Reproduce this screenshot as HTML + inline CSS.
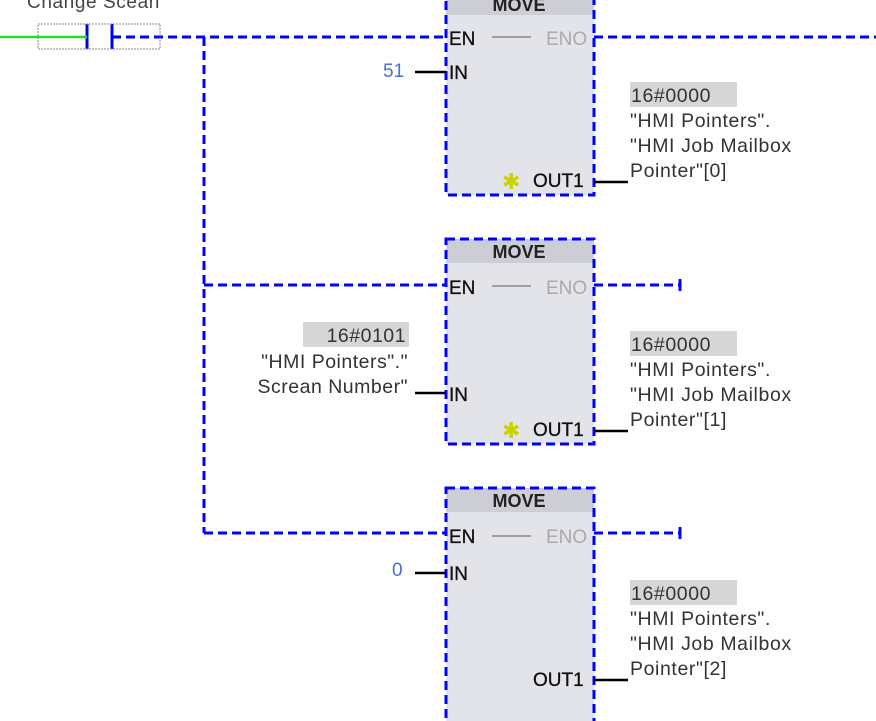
<!DOCTYPE html>
<html><head><meta charset="utf-8"><style>
html,body{margin:0;padding:0;background:#fff;width:876px;height:721px;overflow:hidden}
svg{display:block}
text{font-family:"Liberation Sans","DejaVu Sans",sans-serif}
</style></head><body>
<svg width="876" height="721" viewBox="0 0 876 721" xmlns="http://www.w3.org/2000/svg">
<g>
  <rect x="446" y="-10" width="148" height="205" fill="#e3e3ea"/>
  <rect x="446" y="-10" width="148" height="25" fill="#cdcdd6"/>
  <rect x="446" y="239" width="148" height="205" fill="#e3e3ea"/>
  <rect x="446" y="239" width="148" height="24" fill="#cdcdd6"/>
  <rect x="446" y="488" width="148" height="240" fill="#e3e3ea"/>
  <rect x="446" y="488" width="148" height="24" fill="#cdcdd6"/>
</g>
<g fill="none" stroke="#0000ff" stroke-width="3" stroke-dasharray="9,5">
  <rect x="446" y="-10" width="148" height="205"/>
  <rect x="446" y="239" width="148" height="205"/>
  <rect x="446" y="488" width="148" height="240"/>
  <path d="M112 37 H446"/>
  <path d="M594 37 H876"/>
  <path d="M204 37 V533"/>
  <path d="M204 285 H446"/>
  <path d="M204 533 H446"/>
  <path d="M594 285 H680"/>
  <path d="M594 533 H680"/>
</g>
<g stroke="#0000ff" stroke-width="3">
  <path d="M680 279 V291 M680 527 V539"/>
  <path d="M87 24 V49 M112 24 V49"/>
</g>
<rect x="38" y="24" width="122" height="25" fill="none" stroke="#888" stroke-width="1" stroke-dasharray="2,1"/>
<path d="M0 37 H87" stroke="#22dd22" stroke-width="2.5"/>
<text x="27" y="8" font-size="19" letter-spacing="0.6" fill="#444">Change Scean</text>
<g stroke="#888" stroke-width="1.5">
  <path d="M492 37 H531 M492 286 H531 M492 536 H531"/>
</g>
<g stroke="#000" stroke-width="2.5">
  <path d="M415 72 H446 M415 393 H446 M415 573 H446"/>
  <path d="M594 182 H628 M594 431 H628 M594 680 H628"/>
</g>
<g font-size="18" font-weight="bold" fill="#222" text-anchor="middle">
  <text x="519" y="11">MOVE</text>
  <text x="519" y="258">MOVE</text>
  <text x="519" y="507">MOVE</text>
</g>
<g font-size="19" fill="#111" stroke="#111" stroke-width="0.3">
  <text x="449" y="45">EN</text><text x="449" y="79">IN</text>
  <text x="449" y="294">EN</text><text x="449" y="401">IN</text>
  <text x="449" y="543">EN</text><text x="449" y="580">IN</text>
  <text x="533" y="187">OUT1</text><text x="533" y="436">OUT1</text><text x="533" y="686">OUT1</text>
</g>
<g font-size="19" fill="#aaa">
  <text x="546" y="45">ENO</text><text x="546" y="294">ENO</text><text x="546" y="543">ENO</text>
</g>
<g font-size="22" fill="#c8d400" font-weight="bold">
  <text x="502" y="189">✱</text><text x="502" y="438">✱</text>
</g>
<g font-size="19" fill="#4a6fd8">
  <text x="383" y="77">51</text>
  <text x="392" y="576">0</text>
</g>
<rect x="303" y="322" width="106" height="25" fill="#d6d6d6"/>
<g font-size="19.5" letter-spacing="0.5" fill="#333" text-anchor="end">
  <text x="406" y="342">16#0101</text>
  <text x="408" y="368">"HMI Pointers"."</text>
  <text x="408" y="393">Screan Number"</text>
</g>
<g fill="#d6d6d6">
  <rect x="630" y="82" width="107" height="25"/>
  <rect x="630" y="331" width="107" height="25"/>
  <rect x="630" y="580" width="107" height="25"/>
</g>
<g font-size="19.5" letter-spacing="0.6" fill="#333">
  <text x="631" y="102">16#0000</text>
  <text x="630" y="127">"HMI Pointers".</text>
  <text x="630" y="152">"HMI Job Mailbox</text>
  <text x="630" y="177">Pointer"[0]</text>
  <text x="631" y="351">16#0000</text>
  <text x="630" y="376">"HMI Pointers".</text>
  <text x="630" y="401">"HMI Job Mailbox</text>
  <text x="630" y="426">Pointer"[1]</text>
  <text x="631" y="600">16#0000</text>
  <text x="630" y="625">"HMI Pointers".</text>
  <text x="630" y="650">"HMI Job Mailbox</text>
  <text x="630" y="675">Pointer"[2]</text>
</g>
</svg>
</body></html>
